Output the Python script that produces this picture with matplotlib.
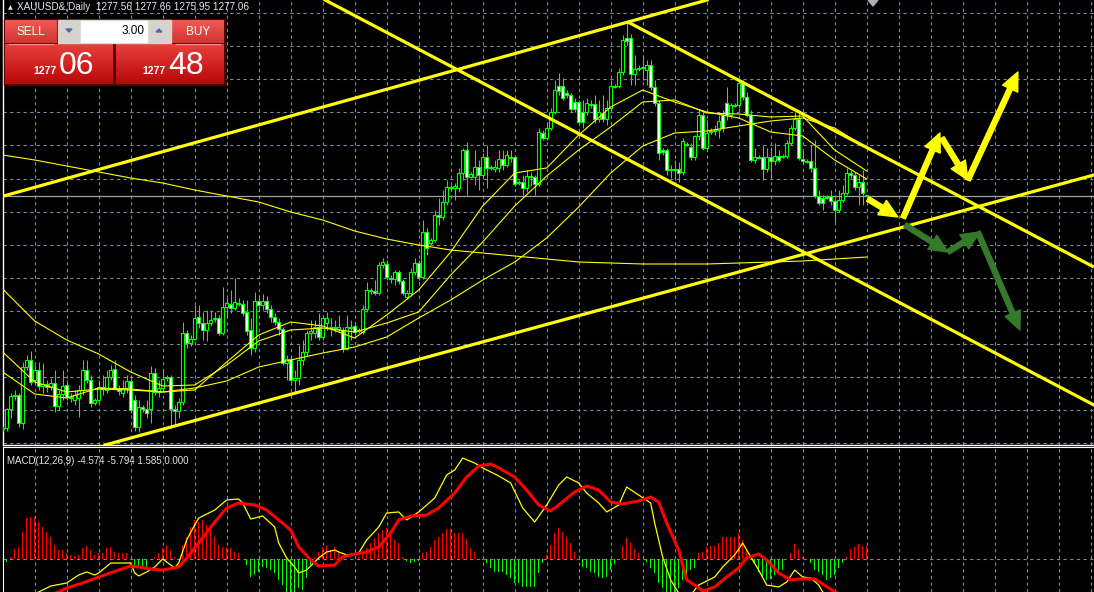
import numpy as np
import matplotlib
matplotlib.use("Agg")
import matplotlib.pyplot as plt
from matplotlib.patches import Rectangle, Polygon

# ---------------- data : XAUUSD daily candles ----------------
opens = [1160.5, 1161, 1170.5, 1177, 1177.5, 1163.5, 1191.5, 1195, 1185, 1190,
         1182, 1183, 1181.5, 1183.5, 1172, 1178, 1182.5, 1176.5, 1175, 1176,
         1180, 1190, 1185, 1173.5, 1175, 1181.5, 1180, 1186.5, 1190.5, 1180.5,
         1178.5, 1181, 1184.5, 1175, 1161.5, 1171.5, 1170.5, 1170.5, 1188.5, 1179,
         1181, 1186.5, 1186.5, 1170.5, 1169.5, 1174, 1208.5, 1203.5, 1205.5, 1216.5,
         1213.5, 1210, 1213.5, 1215.5, 1216, 1208.5, 1221.5, 1223, 1221, 1223.5,
         1223, 1219, 1210, 1201, 1224.5, 1222.5, 1224.5, 1220.5, 1216.5, 1214,
         1210.5, 1193.5, 1195.5, 1185, 1186, 1195, 1199, 1208.5, 1208.5, 1211.5,
         1206.5, 1213.5, 1211.5, 1211, 1210.5, 1210, 1200.5, 1211.5, 1212, 1210,
         1209, 1220.5, 1230, 1229.5, 1228.5, 1242.5, 1243, 1236, 1235.5, 1239,
         1234.5, 1226.5, 1228.5, 1239, 1243.5, 1236.5, 1259, 1253.5, 1255, 1267.5,
         1266.5, 1274, 1281.5, 1281, 1281, 1288.5, 1300, 1286.5, 1286.5, 1291.5,
         1287.5, 1296.5, 1291, 1290.5, 1291, 1295.5, 1292.5, 1296.5, 1296.5, 1284,
         1284, 1281, 1287, 1286.5, 1283, 1308.5, 1306, 1311, 1319, 1332,
         1332, 1328.5, 1327.5, 1324, 1324, 1319, 1319, 1323, 1323, 1315.5,
         1318.5, 1315.5, 1321, 1332, 1332, 1339, 1356, 1356, 1338, 1341,
         1341, 1340, 1342.5, 1331.5, 1323.5, 1300, 1300, 1290.5, 1290.5, 1290.5,
         1289, 1303, 1301.5, 1296.5, 1307, 1317.5, 1301, 1309.5, 1309.5, 1310,
         1317.5, 1323.5, 1317.5, 1322.5, 1322.5, 1333.5, 1326.5, 1317.5, 1295, 1296.5,
         1296.5, 1290.5, 1296.5, 1294.5, 1297, 1297, 1297, 1303.5, 1311, 1315.5,
         1295.5, 1294.5, 1294.5, 1291, 1277, 1276, 1276.5, 1277, 1274.5, 1270,
         1275, 1278.5, 1288.5, 1287.5, 1281.5, 1284, 1277.56]
closes = [1161, 1170.5, 1177, 1177.5, 1163.5, 1191.5, 1195, 1184, 1190, 1182,
          1183, 1181.5, 1183.5, 1172, 1178, 1182, 1176.5, 1176, 1177.5, 1180,
          1190, 1185, 1173.5, 1175, 1181.5, 1180.5, 1186.5, 1190, 1181, 1179.5,
          1181, 1184.5, 1170, 1161.5, 1171.5, 1170.5, 1168.5, 1188.5, 1179, 1181,
          1185.5, 1186, 1170.5, 1169.5, 1174, 1208.5, 1203.5, 1205.5, 1216, 1213.5,
          1210, 1213.5, 1215, 1216, 1208.5, 1221.5, 1223.5, 1221, 1224, 1223,
          1218.5, 1209.5, 1201, 1224.5, 1222.5, 1224.5, 1220.5, 1216.5, 1214, 1210.5,
          1193.5, 1195.5, 1185, 1186, 1195, 1199, 1208.5, 1209.5, 1211.5, 1206.5,
          1216, 1216, 1211, 1211.5, 1211.5, 1200.5, 1211.5, 1211, 1209, 1209.5,
          1220.5, 1230, 1229.5, 1228.5, 1242.5, 1244, 1236.5, 1235.5, 1239, 1234.5,
          1228.5, 1228.5, 1239, 1243.5, 1236.5, 1259, 1251, 1255, 1267.5, 1266.5,
          1274, 1281.5, 1281, 1282, 1288.5, 1300, 1286.5, 1288, 1291.5, 1287.5,
          1296.5, 1291, 1291.5, 1291.5, 1295.5, 1292.5, 1297.5, 1296, 1283, 1283.5,
          1281, 1287, 1286.5, 1283, 1309, 1306, 1311, 1319, 1330, 1329.5,
          1326, 1327.5, 1320.5, 1320.5, 1314, 1314, 1323.5, 1322.5, 1315.5, 1319,
          1315.5, 1321, 1332, 1331.5, 1339, 1355, 1354.5, 1338, 1340.5, 1340.5,
          1341.5, 1342.5, 1331.5, 1323.5, 1298.5, 1299, 1290, 1290, 1290, 1288.5,
          1304.5, 1302.5, 1296.5, 1307, 1317.5, 1301, 1308.5, 1309, 1310, 1314.5,
          1311, 1317.5, 1322.5, 1322, 1333.5, 1326.5, 1317.5, 1295, 1296.5, 1296,
          1290.5, 1296.5, 1294.5, 1297, 1295, 1296.5, 1303.5, 1311, 1315.5, 1296,
          1294.5, 1294, 1291, 1277, 1273.5, 1273.5, 1276, 1274.5, 1270, 1275,
          1278.5, 1288.5, 1287.5, 1281.5, 1284, 1278.5, 1277.06]
highs = [1162, 1171, 1178.5, 1180, 1178.5, 1194, 1197.5, 1199.5, 1192.5, 1194,
         1193.5, 1185, 1186, 1190, 1180, 1190, 1185, 1178.5, 1180, 1182.5,
         1195, 1195, 1187.5, 1176, 1185, 1187.5, 1190, 1192.5, 1195, 1182.5,
         1185, 1187.5, 1187.5, 1177.5, 1175, 1172.5, 1175, 1192, 1191, 1185,
         1190, 1187.5, 1187.5, 1172.5, 1176, 1214, 1210, 1207.5, 1222.5, 1222.5,
         1219, 1220, 1220, 1219, 1217.5, 1231.5, 1226, 1230, 1236, 1226,
         1225, 1225, 1216, 1229, 1227.5, 1228, 1227, 1222.5, 1218.5, 1216,
         1211.5, 1197.5, 1197.5, 1190, 1202.5, 1205, 1210, 1215, 1215, 1218.5,
         1217.5, 1219, 1216, 1215, 1217.5, 1211.5, 1217.5, 1215, 1214, 1211,
         1222.5, 1234, 1231, 1235, 1244, 1246, 1245, 1237.5, 1240, 1240,
         1235.5, 1230, 1241, 1246, 1245, 1265, 1261, 1256, 1270, 1276,
         1280, 1285, 1282.5, 1283.5, 1291, 1301, 1304, 1289, 1300, 1295,
         1298.5, 1302.5, 1292.5, 1295, 1300, 1300, 1300, 1300, 1297.5, 1285,
         1287.5, 1290, 1289, 1287.5, 1311, 1310, 1314, 1321, 1335, 1338.5,
         1336, 1330, 1328.5, 1326, 1325, 1325, 1326, 1325, 1327.5, 1325,
         1327.5, 1325, 1335, 1333, 1341, 1357.5, 1364, 1358, 1347.5, 1342.5,
         1347.5, 1345, 1345, 1335, 1325, 1301, 1301, 1292.5, 1295, 1294,
         1306, 1304, 1303.5, 1307.5, 1320, 1320, 1315, 1311, 1312.5, 1317.5,
         1320, 1331.5, 1323.5, 1323.5, 1335, 1335, 1329, 1320, 1301, 1297.5,
         1302.5, 1301, 1301.5, 1303.5, 1300, 1298, 1305, 1312.5, 1319, 1319,
         1300, 1295.5, 1302.5, 1305, 1280, 1277.5, 1277.5, 1280, 1276, 1280,
         1282.5, 1291, 1290, 1289, 1287.5, 1290, 1277.66]
lows = [1159.5, 1159.5, 1166, 1175, 1161.5, 1160.5, 1190, 1182.5, 1182.5, 1180,
        1178.5, 1179, 1180, 1169, 1170, 1175, 1175, 1174, 1172.5, 1166.5,
        1177.5, 1183.5, 1171.5, 1172.5, 1174, 1177.5, 1178.5, 1185, 1180, 1177.5,
        1176.5, 1178.5, 1168.5, 1159.5, 1159, 1169, 1166, 1163.5, 1177.5, 1176.5,
        1179, 1184.5, 1161, 1162.5, 1166, 1172.5, 1201, 1202, 1205, 1211,
        1205, 1204.5, 1212, 1214, 1207.5, 1207.5, 1216, 1218.5, 1220, 1222,
        1217, 1207.5, 1197.5, 1199, 1219.5, 1220, 1218.5, 1214, 1212.5, 1207.5,
        1192.5, 1185, 1182.5, 1179, 1182.5, 1192.5, 1197, 1205, 1206, 1205,
        1205, 1210, 1207, 1209, 1209, 1199, 1200, 1205, 1207.5, 1208.5,
        1208, 1219, 1228, 1227.5, 1227.5, 1241, 1235, 1233.5, 1232.5, 1233,
        1227.5, 1225.5, 1227, 1237.5, 1235, 1235.5, 1247.5, 1252.5, 1254, 1262.5,
        1265, 1272.5, 1280, 1275, 1279, 1285, 1277.5, 1286, 1282.5, 1280,
        1286, 1281, 1290, 1289, 1289, 1290, 1291.5, 1294, 1282, 1282.5,
        1277.5, 1279, 1282, 1277.5, 1282, 1305, 1305, 1310, 1318, 1327.5,
        1325, 1326, 1319, 1319, 1312.5, 1311, 1317.5, 1321, 1313.5, 1314,
        1314, 1312.5, 1320, 1331, 1331, 1337.5, 1352.5, 1332.5, 1332.5, 1339.5,
        1335, 1332.5, 1330, 1322, 1295, 1297.5, 1287.5, 1286, 1285, 1284,
        1287.5, 1302, 1295, 1295, 1305, 1300, 1300, 1308, 1307.5, 1306,
        1309, 1315, 1316, 1321.5, 1321, 1325, 1316.5, 1294, 1293.5, 1295.5,
        1285, 1289, 1286, 1292.5, 1294, 1296, 1296, 1302.5, 1310, 1295,
        1293, 1293.5, 1289, 1276, 1272.5, 1270, 1275.5, 1272.5, 1264, 1269,
        1274, 1277.5, 1286, 1280, 1272.5, 1272.5, 1275.95]

# moving averages, read every 8 bars
ma_bars = list(range(0, 217, 8))
ma_slow = [1297.5, 1295, 1292, 1289, 1286, 1283.5, 1280, 1277, 1274, 1269, 1265, 1259.5, 1255.5, 1252.5,
           1250, 1248.5, 1247, 1245.5, 1244, 1243.5, 1243, 1243, 1243, 1243.5, 1244, 1244.5, 1245.5, 1246.5]
ma_mid1 = [1230.5, 1214.5, 1205, 1198, 1189, 1182, 1182.5, 1192.5, 1204.5, 1210, 1211, 1209, 1213.5, 1219,
           1237.5, 1254, 1272, 1287, 1300, 1311.5, 1324, 1325, 1318.5, 1318, 1316.5, 1317, 1300, 1289.5]
ma_mid2 = [1199, 1184, 1179, 1180.5, 1180, 1179, 1181, 1184.5, 1191.5, 1195, 1198.5, 1201.5, 1206.5, 1216,
           1225, 1235, 1244, 1256, 1271.5, 1288.5, 1302, 1308.5, 1309.5, 1312, 1314.5, 1316, 1311, 1301]
ma_fast = [1189, 1178, 1176, 1181, 1180.5, 1179, 1180, 1194, 1207.5, 1214, 1212, 1206, 1217.5, 1230,
           1249, 1272, 1288.5, 1291, 1307.5, 1321.5, 1330, 1324, 1319, 1316, 1309, 1307, 1295, 1285.5]

bid_price = 1277.06

# hand-drawn trend lines (bar, price)
chan_up_top = [(-0.675, 1276.5), (176.1, 1375.0)]
chan_up_bottom = [(25.6, 1152.5), (272.8, 1287.5)]
chan_down_top = [(156.3, 1364.0), (272.8, 1241.5)]
chan_down_bottom = [(80.6, 1375.0), (272.8, 1172.5)]

# forecast arrows (bar, price) start -> end
yellow_arrows = [((216.3, 1275.5), (223.8, 1266.5)),
                 ((225.1, 1266.0), (234.3, 1308.5)),
                 ((234.8, 1306.0), (241.3, 1285.0)),
                 ((241.3, 1285.0), (253.8, 1339.0))]
green_arrows = [((225.6, 1262.5), (236.3, 1249.0)),
                ((236.3, 1249.0), (244.3, 1259.0)),
                ((243.8, 1259.0), (254.3, 1210.0))]

# MACD(12,26,9)
macd_hist = [-3.0, -0.38, 0.25, 1.25, 1.5, 3.38, 5.12, 5.25, 5.25, 4.62,
             4.0, 3.38, 2.75, 1.75, 1.12, 1.12, 0.75, 0.5, 0.38, 0.5,
             1.38, 1.62, 1.12, 0.5, 0.75, 0.75, 1.38, 1.5, 0.88, 0.75,
             0.75, 0.75, 0.0, -1.0, -1.12, -1.12, -1.38, 0.0, 0.25, 0.75,
             1.38, 1.75, 1.12, 0.25, 0.0, 1.75, 2.75, 4.0, 4.88, 4.62,
             4.88, 4.25, 3.62, 2.75, 1.75, 1.5, 1.5, 1.38, 0.88, 0.75,
             0.0, -0.75, -2.25, -2.0, -1.62, -1.0, -1.12, -1.38, -1.75, -2.62,
             -3.25, -4.12, -4.25, -4.25, -3.62, -3.88, -2.38, -0.75, 0.25, 0.88,
             1.5, 1.75, 1.12, 1.5, 0.88, 0.25, 0.0, 0.0, 0.0, 0.25,
             0.75, 1.38, 2.0, 2.62, 3.25, 3.62, 3.88, 3.62, 2.38, 2.0,
             0.25, -0.25, -0.5, -0.38, -0.25, 0.75, 0.88, 1.5, 2.38, 2.75,
             3.25, 3.75, 3.75, 3.25, 3.25, 3.25, 2.5, 1.38, 0.88, 0.0,
             -0.12, -0.5, -1.12, -1.62, -1.62, -1.62, -2.0, -2.38, -3.0, -3.0,
             -3.5, -3.5, -3.5, -3.5, -1.75, -0.5, 0.5, 1.75, 3.25, 3.88,
             3.38, 2.75, 2.0, 0.88, 0.0, -1.0, -1.12, -1.62, -1.75, -2.25,
             -2.38, -2.25, -1.38, -0.62, 0.0, 1.62, 2.62, 2.0, 1.25, 0.75,
             0.0, -0.38, -1.12, -1.75, -3.0, -3.62, -4.12, -4.12, -4.12, -3.62,
             -2.62, -2.25, -1.38, -1.12, 0.75, 0.88, 1.5, 1.62, 1.62, 2.0,
             2.75, 2.75, 2.75, 2.75, 3.25, 2.38, 1.12, 0.0, -0.5, -1.62,
             -2.25, -2.62, -2.5, -2.0, -1.75, -1.38, 0.0, 0.75, 1.88, 1.25,
             0.25, 0.0, -0.5, -1.38, -1.62, -2.0, -2.62, -2.38, -2.0, -1.12,
             -0.5, 0.25, 1.25, 1.5, 1.88, 1.62, 1.585]
macd_bars = [2, 9, 12, 16, 19, 21, 23, 24, 27, 29, 32, 33, 34, 36, 38, 40, 43, 44, 46, 48, 49, 53, 56, 59, 60, 62,
             65, 68, 69, 71, 73, 74, 76, 79, 81, 83, 84, 86, 89, 91, 94, 96, 99, 101, 104, 108, 111, 113, 115,
             118, 120, 124, 127, 130, 133, 136, 139, 141, 144, 146, 149, 151, 154, 156, 159, 162, 163, 165, 167,
             169, 171, 174, 178, 180, 183, 185, 186, 189, 191, 194, 196, 198, 200, 202, 204, 205, 209, 216]
macd_line = [-5.5, -4.12, -3.38, -3.0, -2.0, -1.62, -2.0, -1.75, -0.5, -0.5, -0.5, -1.75, -2.12, -1.62, -1.0, 0.0,
             -1.12, -0.5, 2.38, 4.25, 5.12, 6.12, 7.38, 7.5, 7.0, 5.0, 5.38, 4.0, 2.0, 0.12, -1.0, -1.75, -1.38,
             0.12, 0.88, 1.12, 0.88, 0.5, 0.75, 2.38, 4.0, 5.75, 5.88, 4.88, 5.88, 7.62, 10.5, 11.12, 12.62, 12.0,
             11.38, 10.38, 9.5, 6.38, 4.62, 6.75, 9.25, 10.25, 9.5, 8.25, 7.0, 5.88, 6.75, 9.0, 8.0, 7.0, 4.5,
             0.25, -2.62, -4.25, -5.12, -3.25, -2.25, -1.0, 0.5, 2.0, 1.12, -1.38, -3.25, -3.5, -2.88, -1.38,
             -2.25, -2.38, -3.25, -4.12, -5.0, -4.574]
signal_bars = [8, 14, 16, 20, 24, 29, 32, 34, 37, 40, 44, 46, 49, 53, 56, 59, 63, 66, 69, 72, 74, 77, 79, 83, 85,
               88, 91, 94, 97, 99, 102, 106, 109, 113, 116, 119, 122, 124, 128, 131, 134, 137, 139, 143, 146,
               149, 152, 155, 159, 162, 164, 166, 169, 171, 173, 175, 178, 181, 184, 186, 189, 191, 194, 197,
               199, 203, 205, 208, 216]
signal_line = [-5.0, -4.12, -3.62, -3.0, -2.25, -1.38, -0.88, -1.0, -1.25, -1.38, -1.0, 0.12, 2.0, 4.62, 6.38,
               7.0, 6.75, 6.12, 4.88, 3.62, 1.5, -0.12, -0.88, -0.75, 0.25, 0.62, 0.88, 1.5, 3.25, 4.88, 5.38,
               5.5, 6.38, 8.25, 10.25, 11.62, 11.88, 11.38, 10.25, 8.62, 6.75, 6.0, 6.75, 8.38, 9.12, 8.62,
               7.12, 6.88, 7.25, 7.75, 7.12, 4.5, 1.12, -2.62, -3.25, -4.0, -3.5, -2.25, -1.12, 0.12, 0.62,
               -0.12, -1.75, -2.62, -2.5, -2.5, -3.12, -4.12, -5.794]

header = "XAUUSD&,Daily  1277.56 1277.66 1275.95 1277.06"
macd_label = "MACD(12,26,9) -4.574 -5.794 1.585 0.000"
lot = "3.00"
sell_big, sell_small = "06", "1277"
buy_big, buy_small = "48", "1277"

# ---------------- drawing ----------------
W, H = 1094, 592
LIME = "#00ff00"
GRID = "#778899"
fig = plt.figure(figsize=(W / 100, H / 100), dpi=100, facecolor="black")

main = fig.add_axes([3 / W, 1 - 445 / H, (W - 3) / W, 445 / H], facecolor="black")
main.set_xlim(0.075, 272.83)
main.set_ylim(1152.5, 1375)
main.set_xticks(np.arange(8, 273, 8))
main.set_yticks(1368.5 - 16.55 * np.arange(14))
main.grid(True, color=GRID, linestyle=(0, (3, 3)), linewidth=0.8)
main.set_axisbelow(True)
main.tick_params(length=0, labelbottom=False, labelleft=False)
for s in ("top", "right"):
    main.spines[s].set_visible(False)
for s in ("left", "bottom"):
    main.spines[s].set_color("white")
    main.spines[s].set_linewidth(1.0)

o = np.array(opens); c = np.array(closes); hi = np.array(highs); lo = np.array(lows)
x = np.arange(len(c))
main.vlines(x, lo, hi, color=LIME, lw=0.75, zorder=3)
bull = c > o
bear = c < o
doji = c == o
bot = np.minimum(o, c)
ht = np.maximum(np.abs(c - o), 0.35)
main.bar(x[bull], ht[bull], bottom=bot[bull], width=0.6, facecolor="black",
         edgecolor=LIME, linewidth=0.8, zorder=4)
main.bar(x[bear], ht[bear], bottom=bot[bear], width=0.6, facecolor="white",
         edgecolor=LIME, linewidth=0.8, zorder=4)
main.hlines(o[doji], x[doji] - 0.35, x[doji] + 0.35, color=LIME, lw=1.0, zorder=4)

for ma in (ma_slow, ma_mid1, ma_mid2, ma_fast):
    main.plot(ma_bars, ma, color="#ffff00", lw=0.8, zorder=5)

main.axhline(bid_price, color="#a0a0a0", lw=0.9, zorder=2)

for (p0, p1) in (chan_up_top, chan_up_bottom, chan_down_bottom):
    main.axline(p0, p1, color="#ffff00", lw=2.3, zorder=6)
main.plot([chan_down_top[0][0], chan_down_top[1][0]], [chan_down_top[0][1], chan_down_top[1][1]],
          color="#ffff00", lw=2.3, zorder=6, solid_capstyle="butt")

def arrow(a, b, col):
    main.annotate("", xy=b, xytext=a, annotation_clip=False, zorder=7,
                  arrowprops=dict(arrowstyle="simple,head_length=1.1,head_width=1.0,tail_width=0.3",
                                  color=col, shrinkA=0, shrinkB=0, mutation_scale=12))

for a, b in yellow_arrows:
    arrow(a, b, "#ffff00")
for a, b in green_arrows:
    arrow(a, b, "#347a2a")

# MACD window
macd = fig.add_axes([3 / W, 0, (W - 3) / W, 145 / H], facecolor="black")
macd.set_xlim(0.075, 272.83)
macd.set_ylim(-4.125, 14.0)
macd.set_xticks(np.arange(8, 273, 8))
macd.set_yticks([])
macd.grid(True, axis="x", color=GRID, linestyle=(0, (3, 3)), linewidth=0.8)
macd.set_axisbelow(True)
macd.tick_params(length=0, labelbottom=False, labelleft=False)
for s in ("bottom", "right"):
    macd.spines[s].set_visible(False)
for s in ("left", "top"):
    macd.spines[s].set_color("white")
macd.axhline(0, color=GRID, linestyle=(0, (3, 3)), lw=0.8)
hv = np.array(macd_hist)
hx = np.arange(len(hv))
hcol = ["#ff0000" if v > 0 else LIME for v in hv]
macd.bar(hx, hv, width=0.3, color=hcol, linewidth=0, antialiased=False, zorder=3)
macd.plot(macd_bars, macd_line, color="#ffff00", lw=0.9, zorder=4)
macd.plot(signal_bars, signal_line, color="#ff0000", lw=2.2, zorder=5)
macd.text(0.004, 0.9, macd_label, transform=macd.transAxes, color="#e6e6e6",
          fontsize=7, family=["Liberation Sans", "DejaVu Sans"], va="center", ha="left")

# ---------------- overlay (pixel space) ----------------
ui = fig.add_axes([0, 0, 1, 1], facecolor="none")
ui.set_xlim(0, W)
ui.set_ylim(H, 0)
ui.axis("off")

ui.text(8, 7.5, "\u25b2", color="#e6e6e6", fontsize=4.5, va="center", ha="left")
ui.text(17, 7.5, header, color="#e6e6e6", fontsize=7.2, family=["Liberation Sans", "DejaVu Sans"],
        va="center", ha="left")
ui.add_patch(Polygon([(868, 0), (878, 0), (873, 6)], closed=True, color="#b0b0b0"))

def grad_rect(x0, y0, x1, y1, top, bottom):
    t = np.array(matplotlib.colors.to_rgb(top)); b = np.array(matplotlib.colors.to_rgb(bottom))
    g = np.linspace(0, 1, 32)[:, None, None]
    img = t * (1 - g) + b * g
    img = np.repeat(img, 2, axis=1)
    ui.imshow(img, extent=(x0, x1, y1, y0), aspect="auto", interpolation="bilinear", zorder=2)

ui.add_patch(Rectangle((4, 19), 221, 66, color="#5a0000", zorder=1))
grad_rect(5, 20, 57, 43, "#ee5a55", "#d43430")
grad_rect(172, 20, 224, 43, "#ee5a55", "#d43430")
grad_rect(5, 44, 113, 84, "#e8403c", "#b80808")
grad_rect(116, 44, 224, 84, "#e8403c", "#b80808")
ui.plot([9, 53], [43.5, 43.5], color="#ff9a96", lw=0.8, zorder=3)
ui.plot([176, 220], [43.5, 43.5], color="#ff9a96", lw=0.8, zorder=3)
ui.add_patch(Rectangle((58, 20), 113, 23, color="#d6d3ce", zorder=3))
ui.add_patch(Rectangle((81, 21), 66, 21, color="white", zorder=4))
ui.add_patch(Polygon([(66, 29), (72, 29), (69, 32)], closed=True, color="#4a6fa5", zorder=5))
ui.add_patch(Polygon([(156, 32), (162, 32), (159, 29)], closed=True, color="#4a6fa5", zorder=5))
fam = ["Liberation Sans", "DejaVu Sans"]
ui.text(145, 31.5, lot, color="black", fontsize=8.5, family=fam, ha="right", va="center", zorder=6)
ui.text(31, 32, "SELL", color="white", fontsize=8.5, family=fam, ha="center", va="center", zorder=6)
ui.text(198, 32, "BUY", color="white", fontsize=8.5, family=fam, ha="center", va="center", zorder=6)
ui.text(57, 74.5, sell_small, color="white", fontsize=7.5, weight="bold", family=fam, ha="right",
        va="baseline", zorder=6)
ui.text(59, 74.5, sell_big, color="white", fontsize=23, family=fam, ha="left", va="baseline", zorder=6)
ui.text(166, 74.5, buy_small, color="white", fontsize=7.5, weight="bold", family=fam, ha="right",
        va="baseline", zorder=6)
ui.text(168, 74.5, buy_big, color="white", fontsize=23, family=fam, ha="left", va="baseline", zorder=6)

fig.savefig("out.png", dpi=100, facecolor="black")
